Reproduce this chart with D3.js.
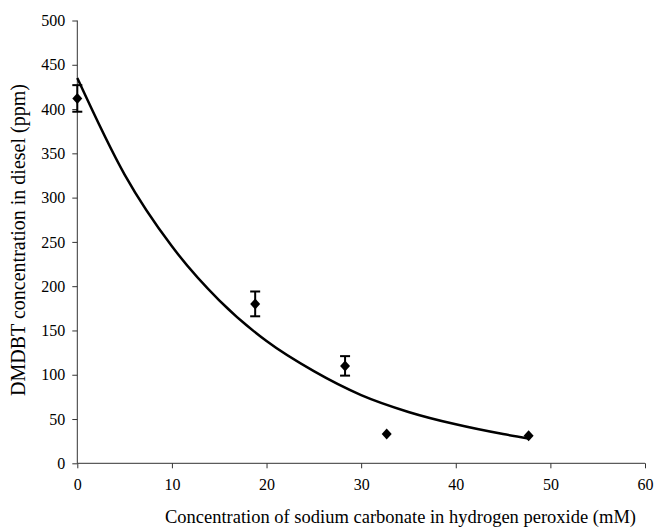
<!DOCTYPE html>
<meta charset="utf-8">
<style>
body { margin: 0; background: #fff; }
svg text { font-family: "Liberation Serif", "Times New Roman", "DejaVu Serif", serif; fill: #000; }
.axis path, .axis line { stroke: #333; stroke-width: 1px; }
.fit { fill: none; stroke: #000; stroke-width: 2.5px; }
.err { stroke: #000; stroke-width: 2px; fill: none; }
</style>
<svg width="655" height="529"></svg>
<script src="https://cdn.jsdelivr.net/npm/d3@7"></script>
<script>

// measured points
var conc = [0, 18.8, 28.3, 32.7, 47.7];
var dmdbt = [412, 180, 110, 33, 31];
var errPlus = [15, 14, 11, 0, 0];

// fitted trend line
var fitX = [0, 5, 10, 15, 20, 25, 30, 35, 40, 45, 47.7];
var fitY = [435, 326, 245, 184, 138, 104, 77, 58, 44, 33, 28];

var xTicks = [0, 10, 20, 30, 40, 50, 60];
var yTicks = [0, 50, 100, 150, 200, 250, 300, 350, 400, 450, 500];

var font = "'Liberation Serif', 'Times New Roman', serif";

var svg = d3.select("svg"),
    margin = {top: 20.5, right: 10, bottom: 65.7, left: 77.3},
    width = svg.attr("width") - margin.left - margin.right,
    height = svg.attr("height") - margin.top - margin.bottom,
    g = svg.append("g").attr("transform", "translate(" + margin.left + "," + margin.top + ")");

var x = d3.scaleLinear().domain([0, 60]).range([0, width]),
    y = d3.scaleLinear().domain([0, 500]).range([height, 0]);

g.append("g")
    .attr("class", "axis axis--x")
    .attr("transform", "translate(0," + height + ")")
    .call(d3.axisBottom(x).tickValues(xTicks).tickSize(5).tickSizeOuter(5).tickPadding(10))
    .call(function(a) { a.select(".domain").attr("d", "M0,0H" + width); })
    .selectAll("text")
    .style("font-family", font)
    .style("font-size", "16px");

g.append("g")
    .attr("class", "axis axis--y")
    .call(d3.axisLeft(y).tickValues(yTicks).tickSize(5).tickPadding(7))
    .call(function(a) { a.select(".domain").attr("d", "M0,0V" + height); })
    .selectAll("text")
    .style("font-family", font)
    .style("font-size", "16px");

svg.append("text")
    .attr("x", 636)
    .attr("y", 523)
    .attr("text-anchor", "end")
    .style("font-family", font)
    .style("font-size", "18.5px")
    .text("Concentration of sodium carbonate in hydrogen peroxide (mM)");

svg.append("text")
    .attr("transform", "translate(25,240) rotate(-90)")
    .attr("text-anchor", "middle")
    .style("font-family", font)
    .style("font-size", "20px")
    .text("DMDBT concentration in diesel (ppm)");

var line = d3.line()
    .curve(d3.curveMonotoneX)
    .x(function(d, i) { return x(fitX[i]); })
    .y(function(d) { return y(d); });

g.append("path")
    .attr("class", "fit")
    .attr("d", line(fitY));

var pts = conc.map(function(c, i) { return {x: c, y: dmdbt[i], e: errPlus[i]}; });

var err = g.selectAll(".errbar")
    .data(pts.filter(function(d) { return d.e > 0; }))
    .enter().append("g")
    .attr("class", "err");

err.append("line")
    .attr("x1", function(d) { return x(d.x); })
    .attr("x2", function(d) { return x(d.x); })
    .attr("y1", function(d) { return y(d.y - d.e); })
    .attr("y2", function(d) { return y(d.y + d.e); });

err.selectAll(".cap")
    .data(function(d) { return [{x: d.x, v: d.y - d.e}, {x: d.x, v: d.y + d.e}]; })
    .enter().append("line")
    .attr("x1", function(d) { return x(d.x) - 5; })
    .attr("x2", function(d) { return x(d.x) + 5; })
    .attr("y1", function(d) { return y(d.v); })
    .attr("y2", function(d) { return y(d.v); });

g.selectAll(".pt")
    .data(pts)
    .enter().append("path")
    .attr("class", "pt")
    .attr("transform", function(d) { return "translate(" + x(d.x) + "," + y(d.y) + ")"; })
    .attr("d", "M0,-5.5L5,0L0,5.5L-5,0Z")
    .attr("fill", "#000");

</script>
